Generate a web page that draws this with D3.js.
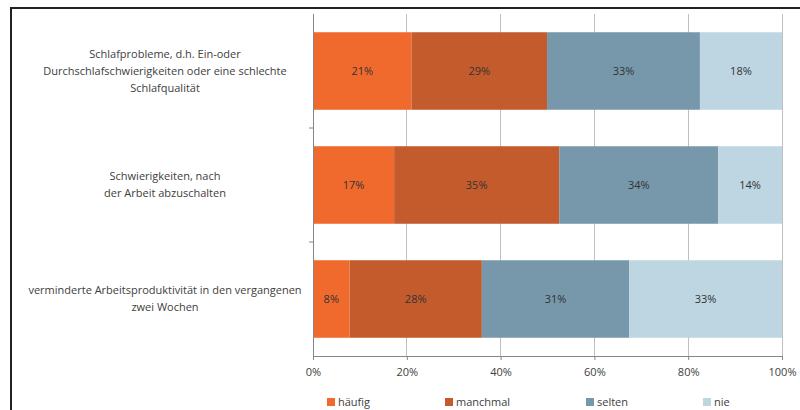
<!DOCTYPE html>
<html><head><meta charset="utf-8">
<script src="https://cdn.jsdelivr.net/npm/d3@7"></script>
<style>body{margin:0;background:#fff;} svg{display:block;font-family:"Open Sans","Liberation Sans",sans-serif;}</style>
</head><body>
<svg id="c" width="800" height="410"></svg>
<script>
const categories = [
  ["Schlafprobleme, d.h. Ein-oder", "Durchschlafschwierigkeiten oder eine schlechte", "Schlafqualität"],
  ["Schwierigkeiten, nach", "der Arbeit abzuschalten"],
  ["verminderte Arbeitsproduktivität in den vergangenen", "zwei Wochen"]
];
const seriesNames = ["häufig", "manchmal", "selten", "nie"];
const haeufig  = [21.0, 17.3, 7.8];
const manchmal = [28.9, 35.2, 28.2];
const selten   = [32.6, 33.9, 31.4];
const nie      = [17.5, 13.6, 32.6];
const colors = ["#F06A2E", "#C45B2D", "#7797AB", "#BED5E2"];
const ticks = [0, 20, 40, 60, 80, 100];

const series = [haeufig, manchmal, selten, nie];
const svg = d3.select("#c");
const m = {left: 313, right: 782, top: 14, bottom: 356};
const x = d3.scaleLinear().domain([0, 100]).range([m.left, m.right]);
const y = d3.scaleBand().domain(d3.range(categories.length)).range([m.top, m.bottom]).paddingInner(0.32).paddingOuter(0.16);

// frame
svg.append("path").attr("d", "M11,410 V8 H800").attr("fill", "none").attr("stroke", "#222").attr("stroke-width", 2);

// gridlines
svg.append("g").selectAll("line").data(ticks.slice(1)).join("line")
  .attr("x1", d => x(d)).attr("x2", d => x(d)).attr("y1", m.top).attr("y2", m.bottom)
  .attr("stroke", "#BFBFBF").attr("stroke-width", 1).attr("shape-rendering", "crispEdges");

// bars
const stacked = categories.map((c, i) => {
  let acc = 0;
  return series.map((s, k) => { const v = s[i]; const r = {i, k, x0: acc, x1: acc + v, v}; acc += v; return r; });
});
const g = svg.append("g");
stacked.flat().forEach(d => {
  g.append("rect").attr("x", x(d.x0)).attr("width", x(d.x1) - x(d.x0))
    .attr("y", y(d.i)).attr("height", y.bandwidth()).attr("fill", colors[d.k]);
  g.append("text").attr("x", (x(d.x0) + x(d.x1)) / 2).attr("y", y(d.i) + y.bandwidth() / 2)
    .attr("dy", "0.35em").attr("text-anchor", "middle").attr("font-size", 11).attr("fill", "#333")
    .text(Math.round(d.v) + "%");
});

// x axis
const xa = svg.append("g").attr("transform", `translate(0,${m.bottom})`)
  .call(d3.axisBottom(x).tickValues(ticks).tickFormat(d => d + "%").tickSize(4).tickSizeOuter(0).tickPadding(8));
xa.select(".domain").attr("stroke", "#868686");
xa.selectAll(".tick line").attr("stroke", "#868686");
xa.selectAll("text").attr("font-size", 11).attr("fill", "#404040").attr("font-family", "'Open Sans','Liberation Sans',sans-serif");

// y axis line with category boundary ticks
const ya = svg.append("g");
ya.append("line").attr("x1", m.left).attr("x2", m.left).attr("y1", m.top).attr("y2", m.bottom).attr("stroke", "#868686").attr("shape-rendering", "crispEdges");
const bounds = d3.range(categories.length + 1).map(i => m.top + i * (m.bottom - m.top) / categories.length);
ya.selectAll(".bt").data(bounds.slice(1, -1)).join("line")
  .attr("x1", m.left - 4).attr("x2", m.left).attr("y1", d => d).attr("y2", d => d).attr("stroke", "#868686");

// category labels
categories.forEach((lines, i) => {
  const cy = y(i) + y.bandwidth() / 2;
  const lh = 17;
  const t = svg.append("text").attr("text-anchor", "middle").attr("font-size", 11).attr("fill", "#404040");
  lines.forEach((l, j) => {
    t.append("tspan").attr("x", 165).attr("y", cy + (j - (lines.length - 1) / 2) * lh).attr("dy", "0.35em").text(l);
  });
});

// legend
const legX = [327, 445, 586, 703];
const lg = svg.append("g");
seriesNames.forEach((n, k) => {
  lg.append("rect").attr("x", legX[k]).attr("y", 398).attr("width", 8).attr("height", 8).attr("fill", colors[k]);
  lg.append("text").attr("x", legX[k] + 11).attr("y", 402).attr("dy", "0.35em").attr("font-size", 11).attr("fill", "#404040").text(n);
});
</script>
</body></html>
